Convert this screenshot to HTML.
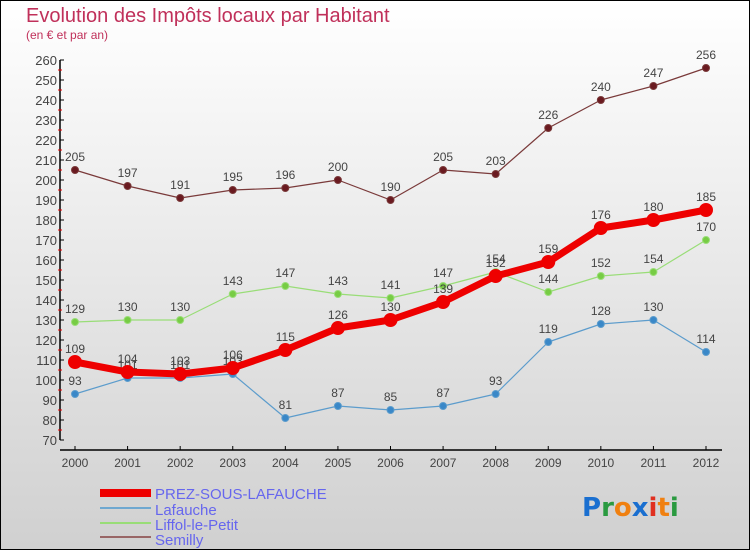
<!DOCTYPE html>
<html><head><meta charset="utf-8"><style>
body{margin:0;}
#c{width:750px;height:550px;position:relative;font-family:"Liberation Sans",sans-serif;}
</style></head><body>
<div id="c">
<svg id="s" width="750" height="550" xmlns="http://www.w3.org/2000/svg">
<defs><linearGradient id="bg" x1="0" y1="0" x2="0" y2="1"><stop offset="0" stop-color="#ffffff"/><stop offset="1" stop-color="#d0d0d0"/></linearGradient></defs>
<rect x="0.5" y="0.5" width="749" height="549" fill="url(#bg)" stroke="#000"/>
<text x="26" y="22" font-size="20" fill="#c0305a">Evolution des Impôts locaux par Habitant</text>
<text x="26" y="39" font-size="12" fill="#c0305a">(en € et par an)</text>
<g id="axes"></g><g id="series"></g>
<g>
<rect x="100" y="489" width="51" height="8" fill="#ee0000"/>
<text x="155" y="499" font-size="15" fill="#6666ee">PREZ-SOUS-LAFAUCHE</text>
<rect x="100" y="507" width="51" height="2" fill="#6fa8d0"/>
<text x="155" y="515" font-size="15" fill="#6666ee">Lafauche</text>
<rect x="100" y="522" width="51" height="2" fill="#99dd77"/>
<text x="155" y="530" font-size="15" fill="#6666ee">Liffol-le-Petit</text>
<rect x="100" y="536" width="51" height="2" fill="#996666"/>
<text x="155" y="545" font-size="15" fill="#6666ee">Semilly</text>
</g>
<g font-size="26" font-family="DejaVu Sans, sans-serif" font-weight="bold">
<text x="582" y="516"><tspan fill="#1a6fd0">P</tspan><tspan fill="#2a9a40">r</tspan><tspan fill="#f08010">o</tspan><tspan fill="#1a6fd0">x</tspan><tspan fill="#e03020">i</tspan><tspan fill="#f08010">t</tspan><tspan fill="#2a9a40">i</tspan></text>
</g>
</svg>
</div>
<script>
const years=[2000,2001,2002,2003,2004,2005,2006,2007,2008,2009,2010,2011,2012];
const prez=[109,104,103,106,115,126,130,139,152,159,176,180,185];
const lafauche=[93,101,101,103,81,87,85,87,93,119,128,130,114];
const liffol=[129,130,130,143,147,143,141,147,154,144,152,154,170];
const semilly=[205,197,191,195,196,200,190,205,203,226,240,247,256];
const yTicks=[70,80,90,100,110,120,130,140,150,160,170,180,190,200,210,220,230,240,250,260];
const NS='http://www.w3.org/2000/svg';
function X(i){return 75+i*(706-75)/(years.length-1);}
function Y(v){return 60+(260-v)*2;}
function mk(t,a,p){const e=document.createElementNS(NS,t);for(const k in a)e.setAttribute(k,a[k]);p.appendChild(e);return e;}
const ax=document.getElementById('axes');
const yl=mk('line',{x1:60,y1:60,x2:60,y2:440,stroke:'#000','stroke-width':1.5},ax);


yTicks.forEach(v=>{
 mk('line',{x1:60,y1:Y(v),x2:64,y2:Y(v),stroke:'#000'},ax);
 if(v<260)mk('line',{x1:58,y1:Y(v+5),x2:62,y2:Y(v+5),stroke:'#e00'},ax);
 const t=mk('text',{x:57,y:Y(v)+5,'font-size':13,fill:'#444','text-anchor':'end'},ax);t.textContent=v;
 
 
});
const xl=mk('line',{x1:60,y1:450,x2:722,y2:450,stroke:'#000','stroke-width':1.5},ax);


years.forEach((y,i)=>{
 mk('line',{x1:X(i),y1:446,x2:X(i),y2:450,stroke:'#000'},ax);
 const t=mk('text',{x:X(i),y:467,'font-size':12,fill:'#444','text-anchor':'middle'},ax);t.textContent=y;
 
 
});
const sg=document.getElementById('series');
function draw(data,name,color,w,r,fill){
 const g=mk('g',{},sg);
 
 
 mk('polyline',{points:data.map((v,i)=>X(i)+','+Y(v)).join(' '),fill:'none',stroke:color,'stroke-width':w,'stroke-linejoin':'round'},g);
 data.forEach((v,i)=>{
  const c=mk('circle',{cx:X(i),cy:Y(v),r:r,fill:fill,stroke:color,'stroke-width':1},g);
  
  
  const t=mk('text',{x:X(i),y:Y(v)-9,'font-size':12,fill:'#444','text-anchor':'middle'},g);t.textContent=v;
  
  
 });
}
draw(semilly,'semilly','#7a3a3a',1.2,3.5,'#6a1a20');
draw(liffol,'liffol','#99dd77',1.2,3.5,'#77cc44');
draw(lafauche,'lafauche','#5c9ccc',1.2,3.5,'#3a88c8');
draw(prez,'prez','#ee0000',7,6.5,'#ee0000');
</script>
</body></html>
